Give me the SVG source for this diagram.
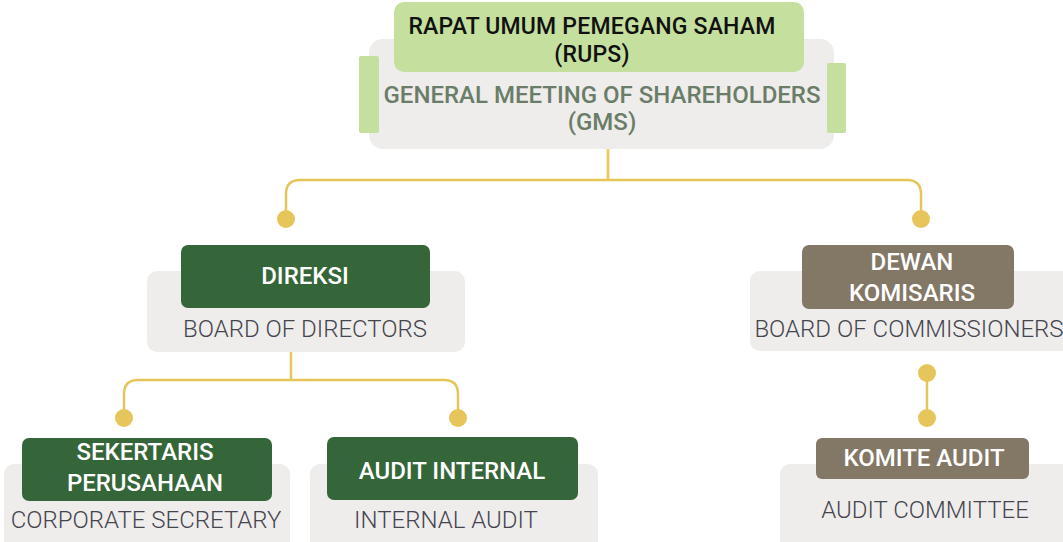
<svg xmlns="http://www.w3.org/2000/svg" width="1063" height="542" viewBox="0 0 1063 542">
<defs>
<style>
.bg{fill:#efedeb}
.lg{fill:#c5df9e}
.dg{fill:#356639}
.tp{fill:#837766}
.conn{fill:none;stroke:#e6c65a;stroke-width:2.5}
.dot{fill:#e6c65a}
.t{font-family:Roboto,"Liberation Sans",sans-serif;text-anchor:middle}
.hd{font-size:24px;font-weight:500;fill:#ffffff}
.en{font-size:24px;font-weight:300;fill:#45454f}
.top{font-size:23px;font-weight:500;fill:#111111;letter-spacing:0.2px}
.gms{font-size:24px;font-weight:500;fill:#6a7d68}
</style>
</defs>
<rect width="1063" height="542" fill="#ffffff"/>
<g id="connectors">
<path class="conn" d="M608,149 V180 M286,219 V194 Q286,180 300,180 H907 Q921,180 921,194 V219"/>
<path class="conn" d="M291,352 V380 M124,418 V394 Q124,380 138,380 H444 Q458,380 458,394 V418"/>
<path class="conn" d="M927,373 V418"/>
<circle class="dot" cx="286" cy="219" r="9"/>
<circle class="dot" cx="921" cy="219" r="9"/>
<circle class="dot" cx="124" cy="418" r="9"/>
<circle class="dot" cx="458" cy="418" r="9"/>
<circle class="dot" cx="927" cy="373" r="9"/>
<circle class="dot" cx="927" cy="418" r="9"/>
</g>
<g id="rups">
<rect class="bg" x="369" y="39" width="465" height="110" rx="14"/>
<rect class="lg" x="359" y="56" width="20" height="77" rx="2"/>
<rect class="lg" x="827" y="63" width="19" height="70" rx="2"/>
<rect class="lg" x="394" y="2" width="410" height="70" rx="10"/>
<text class="t top" x="592" y="34">RAPAT UMUM PEMEGANG SAHAM</text>
<text class="t top" x="592" y="62">(RUPS)</text>
<text class="t gms" x="602" y="103">GENERAL MEETING OF SHAREHOLDERS</text>
<text class="t gms" x="602" y="130">(GMS)</text>
</g>
<g id="direksi">
<rect class="bg" x="147" y="271" width="318" height="81" rx="10"/>
<rect class="dg" x="181" y="245" width="249" height="63" rx="7"/>
<text class="t hd" x="305" y="284">DIREKSI</text>
<text class="t en" x="305" y="337">BOARD OF DIRECTORS</text>
</g>
<g id="komisaris">
<rect class="bg" x="750" y="271" width="330" height="80" rx="10"/>
<rect class="tp" x="802" y="245" width="212" height="64" rx="7"/>
<text class="t hd" x="912" y="270">DEWAN</text>
<text class="t hd" x="912" y="301">KOMISARIS</text>
<text class="t en" x="909" y="337">BOARD OF COMMISSIONERS</text>
</g>
<g id="sekretaris">
<rect class="bg" x="4" y="464" width="286" height="90" rx="10"/>
<rect class="dg" x="22" y="438" width="250" height="63" rx="7"/>
<text class="t hd" x="145" y="460">SEKERTARIS</text>
<text class="t hd" x="145" y="491">PERUSAHAAN</text>
<text class="t en" x="146" y="528">CORPORATE SECRETARY</text>
</g>
<g id="audit-internal">
<rect class="bg" x="310" y="464" width="288" height="90" rx="10"/>
<rect class="dg" x="327" y="437" width="251" height="63" rx="7"/>
<text class="t hd" x="452" y="479">AUDIT INTERNAL</text>
<text class="t en" x="446" y="528">INTERNAL AUDIT</text>
</g>
<g id="komite-audit">
<rect class="bg" x="780" y="464" width="300" height="90" rx="10"/>
<rect class="tp" x="816" y="438" width="213" height="41" rx="6"/>
<text class="t hd" x="924" y="466">KOMITE AUDIT</text>
<text class="t en" x="925" y="518">AUDIT COMMITTEE</text>
</g>
</svg>
